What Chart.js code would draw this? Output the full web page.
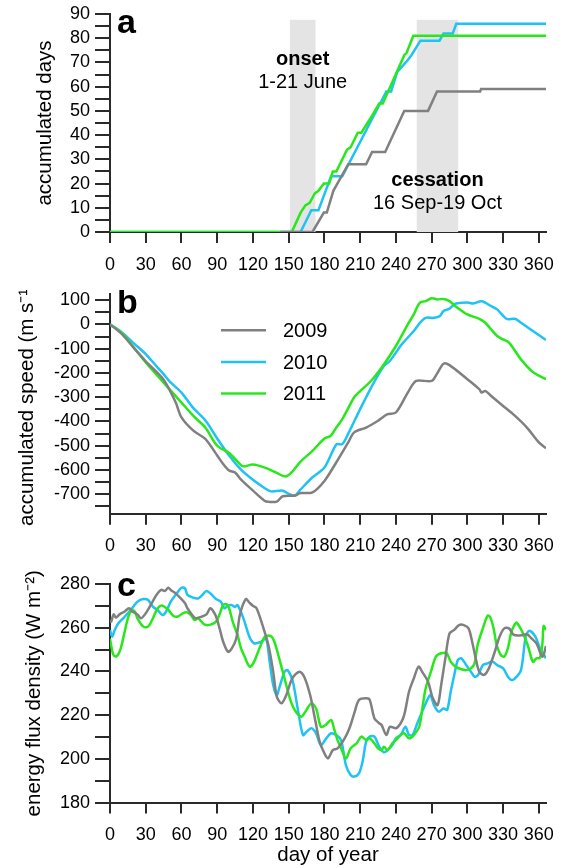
<!DOCTYPE html>
<html>
<head>
<meta charset="utf-8">
<script src="https://cdn.jsdelivr.net/npm/chart.js@4.4.1/dist/chart.umd.min.js"></script>
<style>
  html, body { margin: 0; padding: 0; background: #fff; }
  body { width: 562px; height: 868px; position: relative; overflow: hidden; }
  canvas { position: absolute; left: 0; }
</style>
</head>
<body>
<canvas id="chartA" width="562" height="290" style="top:0px"></canvas>
<canvas id="chartB" width="562" height="280" style="top:290px"></canvas>
<canvas id="chartC" width="562" height="298" style="top:570px"></canvas>
<script>
// ---- data ----
const years = ['2009', '2010', '2011'];
const dayTicks = [0, 30, 60, 90, 120, 150, 180, 210, 240, 270, 300, 330, 360];

// panel a: accumulated days
const accDaysTicks = [0, 5, 10, 15, 20, 25, 30, 35, 40, 45, 50, 55, 60, 65, 70, 75, 80, 85, 90];
const accDaysLabels = [0, 10, 20, 30, 40, 50, 60, 70, 80, 90];
const accDaysX2009 = [143, 170, 179.5, 182, 187.5, 200, 215, 220, 231, 247, 267, 274.5, 310.7, 311.5, 366];
const accDays2009 = [0, 0, 8, 8, 17, 28, 28, 33, 33, 50, 50, 58, 58, 59, 59];
const accDaysX2010 = [0, 160, 169, 175, 185.6, 195, 232, 236, 241, 250, 253, 260.6, 276.6, 280, 287.7, 290.7, 366];
const accDays2010 = [0, 0, 9, 9, 23, 23, 58, 58, 66, 71, 73, 79, 79, 82, 82, 86, 86];
const accDaysX2011 = [0, 152.6, 160, 164, 167.6, 172, 175, 179.5, 184, 187, 190, 199, 202, 208, 211, 220, 226, 229, 247, 249, 254.6, 366];
const accDays2011 = [0, 0, 8, 11, 12, 16, 17, 20, 20, 25, 25, 34, 35, 41, 41, 48, 53, 53, 73, 74, 81, 81];
const onsetDays = [151, 172.5];
const cessationDays = [257.5, 292.3];
const shadeTop = 87.6;

// panel b: accumulated speed
const speedTicks = [-750, -700, -650, -600, -550, -500, -450, -400, -350, -300, -250, -200, -150, -100, -50, 0, 50, 100];
const speedLabels = [-700, -600, -500, -400, -300, -200, -100, 0, 100];
const speedX2009 = [0, 10, 20, 30, 45, 55, 60, 70, 80, 90, 95, 100, 105, 110, 120, 130, 133, 140, 145, 155, 160, 170, 180, 190, 200, 205, 215, 225, 233, 240, 250, 257, 270, 275, 280, 285, 300, 310, 312, 315, 320, 330, 340, 350, 360, 366];
const speed2009 = [0, -40, -97, -152, -228, -320, -383, -438, -472, -540, -575, -602, -610, -640, -685, -728, -731, -730, -708, -705, -695, -692, -645, -568, -486, -445, -425, -397, -370, -363, -281, -233, -233, -199, -162, -168, -226, -267, -281, -274, -295, -336, -377, -425, -486, -510];
const speedX2010 = [0, 10, 20, 30, 40, 45, 50, 60, 70, 80, 90, 100, 110, 120, 130, 135, 145, 150, 155, 160, 170, 180, 190, 195, 200, 210, 220, 230, 235, 245, 255, 260, 265, 272, 277, 280, 285, 290, 300, 305, 312, 320, 325, 333, 340, 345, 355, 366];
const speed2010 = [0, -33, -78, -122, -178, -205, -235, -281, -345, -395, -470, -540, -598, -640, -675, -688, -685, -698, -706, -680, -630, -590, -495, -493, -450, -349, -253, -171, -150, -82, -27, 5, 27, 27, 35, 55, 65, 85, 90, 86, 95, 75, 62, 23, 23, 7, -27, -64];
const speedX2011 = [0, 10, 20, 30, 45, 60, 70, 80, 90, 100, 110, 113, 120, 130, 140, 147, 152, 160, 170, 180, 185, 190, 195, 200, 205, 210, 220, 230, 240, 250, 255, 260, 265, 270, 275, 280, 285, 290, 300, 310, 315, 320, 325, 330, 335, 345, 355, 366];
const speed2011 = [0, -35, -95, -157, -240, -322, -377, -425, -500, -530, -580, -585, -577, -590, -612, -627, -612, -565, -521, -470, -460, -425, -390, -345, -300, -275, -228, -164, -89, 0, 41, 89, 96, 108, 103, 105, 96, 75, 41, 23, 7, -21, -48, -62, -75, -144, -196, -226];

// panel c: energy flux density
const fluxTicks = [180, 190, 200, 210, 220, 230, 240, 250, 260, 270, 280];
const fluxLabels = [180, 200, 220, 240, 260, 280];
const fluxX2009 = [0, 1, 3, 5, 8, 12, 16, 19, 23, 26, 30, 35, 39, 43, 46, 49, 51, 55, 58, 63, 65, 70, 72, 77, 81, 84, 86, 89, 92, 95, 99, 102, 106, 109, 114, 117, 120, 123, 128, 133, 137, 140, 144, 148, 153, 159, 163, 168, 172, 176, 180, 183, 187, 191, 197, 201, 205, 209, 215, 218, 222, 226, 228, 232, 235, 240, 244, 247, 251, 255, 259, 262, 267, 271, 275, 278, 281.5, 285, 289, 293, 297, 301, 304, 307, 310, 314, 318, 323, 327, 331, 335, 339, 345, 350, 354, 358, 363, 366];
const flux2009 = [263, 262.8, 266.1, 264.6, 266.1, 267.3, 268.9, 267.3, 266.1, 264.3, 266.6, 271.2, 275, 277.3, 276.8, 278.3, 277.3, 275.7, 274.2, 271.2, 268.9, 265.1, 264.3, 265.1, 266.1, 268.9, 268.1, 265.1, 259.7, 253.6, 249, 250.3, 255.1, 265.8, 273.1, 271.5, 270, 268.9, 261.2, 252, 239.9, 228.5, 225.4, 229.2, 236.8, 239.9, 237.6, 229.2, 218.5, 207.9, 202.5, 200.2, 204, 204.8, 209.4, 214, 220.8, 226.9, 227.7, 227, 218.5, 216.3, 215.5, 210.9, 214.7, 214, 216.3, 220.1, 230.7, 236.8, 242.2, 239.9, 235.3, 227.7, 224.6, 233.8, 246, 257.4, 259, 261.2, 261.2, 259.7, 253.6, 246, 239.9, 238.4, 241.4, 249, 255.9, 259.7, 259.7, 256.7, 256.5, 257, 255, 252.8, 246.7, 251.6];
const fluxX2010 = [0, 1.8, 4, 7, 11, 15, 19, 23, 28, 32, 36, 40, 44, 47, 51, 56, 60, 63, 65, 70, 74, 77, 81, 85, 89, 93, 96, 99, 102, 105, 107, 112, 117, 121, 127, 131, 134, 137, 140, 142, 146.5, 149, 153.5, 158, 162, 165, 169, 173, 177, 181.5, 185.6, 190, 194, 198, 202, 205, 209, 212, 215, 218, 222, 226, 230, 233, 237, 240, 244, 248, 251, 254, 258, 262, 267, 269, 272, 276, 280, 283, 286, 289, 292, 295, 299, 303, 306, 309, 313, 317, 321, 325, 330, 334, 337, 340, 345, 349, 352, 357, 361, 366];
const flux2010 = [259, 255.9, 259, 262, 264.3, 266.6, 269.2, 271.9, 273.1, 272.7, 269.6, 268.1, 265.8, 267.3, 271.9, 275.7, 278.3, 278, 275, 273.7, 273.4, 274.7, 276.8, 275.3, 273.1, 271.9, 268.9, 270.1, 270.4, 269.5, 270.4, 264.3, 255.9, 252.9, 253.6, 255.1, 244.5, 233.8, 229.2, 232.3, 239.9, 240.6, 235.3, 221.6, 210.9, 212.4, 214, 211.7, 206.3, 209.4, 211.7, 210.9, 208.6, 197.2, 192.6, 191.9, 193.4, 198.7, 207.9, 210.2, 210.2, 205.6, 203, 204, 206.3, 209.4, 210.9, 214.7, 210.9, 210.9, 216.3, 221.6, 227.7, 229.2, 224.6, 221.6, 223.1, 222.4, 230.7, 238.4, 245.2, 246, 242.9, 239.9, 237.6, 238.4, 242.9, 243.7, 244.5, 242.9, 241.4, 237.6, 236.1, 236.8, 240.6, 256, 258.6, 256, 250.5, 246];
const fluxX2011 = [0, 2.4, 4.6, 7.4, 9.4, 12, 15, 18, 21, 23, 28, 32, 36, 40, 44, 49, 53, 57, 61, 65, 68, 71, 74, 78, 81, 85, 89, 92, 95, 98, 100, 103, 107, 110, 113, 116, 118, 121, 126, 130, 135, 138, 142, 146.5, 151, 155, 160.5, 164, 169, 173, 177, 181, 185.6, 188, 191, 194, 198, 202, 207, 211, 215, 218, 222, 225, 228, 230, 233, 237, 240, 244, 247, 251, 255, 259.6, 262.4, 265, 269.4, 273.6, 278, 282.6, 286, 290, 295, 299, 303, 306, 308.6, 313, 317, 319, 322, 324.6, 328, 331, 334, 336.6, 339.4, 341.5, 346, 350.7, 355, 358, 361, 363, 364, 366];
const flux2011 = [255, 248.3, 246.8, 248.3, 251.3, 257.4, 264.3, 268.1, 267.3, 264.3, 260.5, 260.5, 264.3, 268.9, 270.1, 268.1, 265.5, 265.1, 266.6, 267, 265.8, 263.5, 264.3, 262, 261.2, 261.5, 262.8, 266.1, 270.4, 270.7, 268.9, 262.8, 256.7, 250.6, 246.8, 243, 242.2, 244.5, 251.3, 255.9, 256.2, 253.6, 246, 236.8, 227.7, 222.4, 219.3, 221.6, 225.4, 223.1, 214.7, 215.5, 217.8, 214, 208.6, 204.8, 200.2, 204.8, 207.1, 210.2, 208.6, 209.4, 207.1, 204.8, 204, 205.6, 204, 207.1, 208.6, 210.9, 211.7, 209.4, 210.9, 214.7, 223.9, 232.3, 239.9, 246.8, 248.3, 248.3, 244.5, 242.2, 241, 240.6, 241.4, 243.7, 252.1, 259.7, 265.5, 265, 259.7, 252.1, 247.5, 246.8, 250.6, 257.4, 261.2, 262.3, 258.2, 252, 244.4, 246, 246.3, 252.8, 260.8, 259];

// ---- styling ----
const FONT = "'Liberation Sans', Arial, Helvetica, sans-serif";
const AXIS = '#2a2a2a';
const colors = { '2009': '#808080', '2010': '#1ec2f5', '2011': '#28e81c' };

function pairs(xs, ys) { return xs.map((x, i) => ({ x: x, y: ys[i] })); }

function lineSet(label, xs, ys, tension) {
  return {
    label: label, data: pairs(xs, ys),
    borderColor: colors[label], borderWidth: 2.5,
    pointRadius: 0, tension: tension, fill: false
  };
}

function makeOptions(p) {
  return {
    responsive: false, animation: false, devicePixelRatio: 1,
    layout: { padding: { top: p.padTop, right: 16, left: 0, bottom: 0 } },
    plugins: { legend: { display: false }, tooltip: { enabled: false } },
    scales: {
      x: {
        type: 'linear', min: 0, max: 366,
        afterBuildTicks: (ax) => { ax.ticks = dayTicks.map(v => ({ value: v })); },
        afterFit: (s) => { s.height = p.xHeight; s.paddingLeft = 0; s.paddingRight = 0; },
        grid: { drawOnChartArea: false, drawTicks: true, tickLength: 11, color: AXIS, lineWidth: 2 },
        border: { display: true, color: AXIS, width: 2 },
        ticks: { padding: 11, color: '#000', autoSkip: false, maxRotation: 0, font: { size: 18, family: FONT } },
        title: p.xTitle ? { display: true, text: p.xTitle, color: '#000', font: { size: 20.5, family: FONT }, padding: { top: 0, bottom: 0 } } : { display: false }
      },
      y: {
        type: 'linear', min: p.yMin, max: p.yMax,
        afterBuildTicks: (ax) => { ax.ticks = p.yTicks.map(v => ({ value: v })); },
        afterFit: (s) => { s.width = 110; s.paddingTop = 0; s.paddingBottom = 0; },
        grid: { drawOnChartArea: false, drawTicks: true, tickLength: 15, color: AXIS, lineWidth: 2 },
        border: { display: true, color: AXIS, width: 2 },
        ticks: {
          padding: 5, color: '#000', autoSkip: false, font: { size: 18, family: FONT },
          callback: (v) => p.yLabels.includes(v) ? String(v) : ''
        },
        title: { display: true, text: p.yTitle, color: '#000', font: { size: 20.5, family: FONT }, padding: { top: p.yTitlePad, bottom: 0 } }
      }
    }
  };
}

function letterPlugin(letter, baseY) {
  return {
    id: 'panelLetter',
    afterDraw(chart) {
      const ctx = chart.ctx;
      ctx.save();
      ctx.fillStyle = '#000';
      ctx.font = 'bold 34px ' + FONT;
      ctx.textBaseline = 'alphabetic';
      ctx.textAlign = 'left';
      ctx.fillText(letter, chart.chartArea.left + 7, baseY);
      ctx.restore();
    }
  };
}

// ---- panel a ----
const shadePlugin = {
  id: 'shades',
  beforeDatasetsDraw(chart) {
    const { ctx, scales: { x, y } } = chart;
    ctx.save();
    ctx.fillStyle = '#e4e4e4';
    [onsetDays, cessationDays].forEach(([d0, d1]) => {
      ctx.fillRect(x.getPixelForValue(d0), y.getPixelForValue(shadeTop),
        x.getPixelForValue(d1) - x.getPixelForValue(d0), y.getPixelForValue(0) - y.getPixelForValue(shadeTop));
    });
    ctx.restore();
  },
  afterDatasetsDraw(chart) {
    const { ctx, scales: { x, y } } = chart;
    const onsetMid = (onsetDays[0] + onsetDays[1]) / 2;
    const cessMid = (cessationDays[0] + cessationDays[1]) / 2;
    ctx.save();
    ctx.fillStyle = '#000';
    ctx.textAlign = 'center';
    ctx.textBaseline = 'alphabetic';
    ctx.font = 'bold 20px ' + FONT;
    ctx.fillText('onset', x.getPixelForValue(onsetMid), y.getPixelForValue(69.1));
    ctx.fillText('cessation', x.getPixelForValue(cessMid), y.getPixelForValue(19.1));
    ctx.font = '20px ' + FONT;
    ctx.fillText('1-21 June', x.getPixelForValue(onsetMid), y.getPixelForValue(59.4));
    ctx.fillText('16 Sep-19 Oct', x.getPixelForValue(cessMid), y.getPixelForValue(9.6));
    ctx.restore();
  }
};

new Chart(document.getElementById('chartA'), {
  type: 'line',
  data: { datasets: [
    lineSet('2009', accDaysX2009, accDays2009, 0),
    lineSet('2011', accDaysX2011, accDays2011, 0),
    lineSet('2010', accDaysX2010, accDays2010, 0)
  ] },
  options: makeOptions({ padTop: 14, xHeight: 58, yMin: 0, yMax: 90, yTicks: accDaysTicks, yLabels: accDaysLabels,
    yTitle: 'accumulated days', yTitlePad: 33 }),
  plugins: [shadePlugin, letterPlugin('a', 33)]
});

// ---- panel b ----
const legendPlugin = {
  id: 'yearLegend',
  afterDraw(chart) {
    const ctx = chart.ctx;
    const left = chart.chartArea.left;
    const rows = [40.3, 72, 103.6];
    ctx.save();
    ctx.font = '20px ' + FONT;
    ctx.textBaseline = 'middle';
    ctx.textAlign = 'left';
    years.forEach((yr, i) => {
      ctx.strokeStyle = colors[yr];
      ctx.lineWidth = 2.5;
      ctx.beginPath();
      ctx.moveTo(left + 111, rows[i]);
      ctx.lineTo(left + 156, rows[i]);
      ctx.stroke();
      ctx.fillStyle = '#000';
      ctx.fillText(yr, left + 173, rows[i] + 1);
    });
    ctx.restore();
  }
};

new Chart(document.getElementById('chartB'), {
  type: 'line',
  data: { datasets: [
    lineSet('2009', speedX2009, speed2009, 0.3),
    lineSet('2011', speedX2011, speed2011, 0.3),
    lineSet('2010', speedX2010, speed2010, 0.3)
  ] },
  options: makeOptions({ padTop: 4.3, xHeight: 56.3, yMin: -780, yMax: 124, yTicks: speedTicks, yLabels: speedLabels,
    yTitle: 'accumulated speed (m s\u207B\u00B9)', yTitlePad: 15 }),
  plugins: [legendPlugin, letterPlugin('b', 23)]
});

// ---- panel c ----
new Chart(document.getElementById('chartC'), {
  type: 'line',
  data: { datasets: [
    lineSet('2009', fluxX2009, flux2009, 0.3),
    lineSet('2011', fluxX2011, flux2011, 0.3),
    lineSet('2010', fluxX2010, flux2010, 0.3)
  ] },
  options: makeOptions({ padTop: 14, xHeight: 65.4, yMin: 180, yMax: 280, yTicks: fluxTicks, yLabels: fluxLabels,
    yTitle: 'energy flux density (W m\u207B\u00B2)', yTitlePad: 22, xTitle: 'day of year' }),
  plugins: [letterPlugin('c', 26)]
});
</script>
</body>
</html>
